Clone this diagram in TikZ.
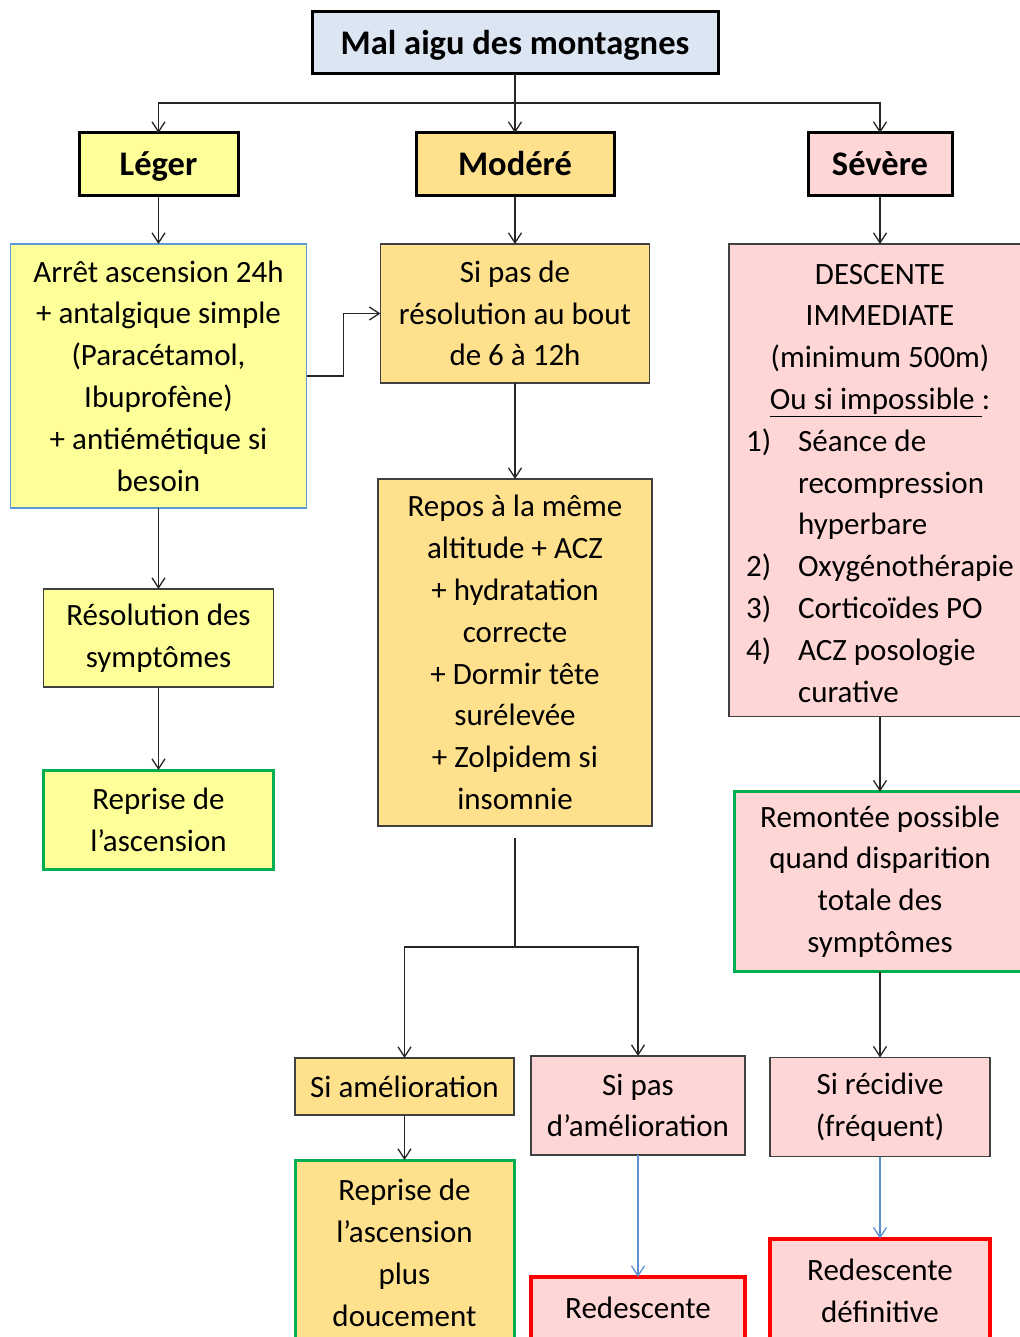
\documentclass[tikz,border=0pt]{standalone}
\usepackage{fontspec}
\setmainfont{Carlito}
\usetikzlibrary{positioning,arrows.meta,calc}

\definecolor{titlefill}{HTML}{DCE6F2}
\definecolor{legerfill}{HTML}{FFFF99}
\definecolor{moderefill}{HTML}{FFE08C}
\definecolor{severefill}{HTML}{FFD6D6}
\definecolor{boxline}{HTML}{404040}
\definecolor{linec}{HTML}{262626}
\definecolor{bluec}{HTML}{5B8FCF}
\definecolor{blueborder}{HTML}{5B9BD5}
\definecolor{greenc}{HTML}{00B050}
\definecolor{redc}{HTML}{FF0000}

\begin{document}
\begin{tikzpicture}[x=1pt,y=1pt,
    box/.style={draw=boxline, line width=1.3pt, outer sep=0pt, inner xsep=6pt, inner ysep=2pt,
      align=flush center, font=\fontsize{31}{41.8}\selectfont},
    head/.style={draw=black, line width=3pt, outer sep=0pt, inner xsep=6pt, inner ysep=2pt,
      text height=32pt, text depth=9pt, align=flush center, font=\fontsize{34.5}{40}\selectfont\bfseries},
    link/.style={draw=linec, line width=1.3pt},
    arr/.style={link, -{Straight Barb[length=10pt,width=13pt]}},
    bluearr/.style={arr, draw=bluec},
    okbox/.style={draw=greenc, line width=3pt},
    stopbox/.style={draw=redc, line width=4pt}]
  \useasboundingbox (0,0) rectangle (1019,-1337);

  % titre et niveaux
  \node[head, fill=titlefill, text width=394pt, minimum height=62pt] (title) at (515,-43) {Mal aigu des montagnes};
  \node[head, fill=moderefill, text width=186pt, minimum height=63pt, below=59pt of title] (modere) {Modéré};
  \node[head, fill=legerfill, text width=147pt, minimum height=63pt, left=178pt of modere] (leger) {Léger};
  \node[head, fill=severefill, text width=132pt, minimum height=63pt, right=194pt of modere] (severe) {Sévère};

  % colonne leger
  \node[box, draw=blueborder, fill=legerfill, text width=284pt, minimum height=264pt, below=48pt of leger] (arret)
    {Arrêt ascension 24h\\+ antalgique simple\\(Paracétamol,\\Ibuprofène)\\+ antiémétique si\\besoin};
  \node[box, fill=legerfill, text width=218pt, minimum height=98pt, below=81pt of arret] (resol)
    {Résolution des\\symptômes};
  \node[box, okbox, fill=legerfill, text width=218pt, minimum height=99pt, below=83pt of resol] (reprise)
    {Reprise de\\l’ascension};

  % colonne modere
  \node[box, fill=moderefill, text width=257pt, minimum height=139pt, below=48pt of modere] (sipas)
    {Si pas de\\résolution au bout\\de 6 à 12h};
  \node[box, fill=moderefill, text width=262pt, minimum height=347pt, below=96pt of sipas] (repos)
    {Repos à la même\\altitude + ACZ\\+ hydratation\\correcte\\+ Dormir tête\\surélevée\\+ Zolpidem si\\insomnie};
  \node[box, fill=moderefill, text width=207pt, minimum height=57pt, below=232pt of repos, xshift=-110.5pt] (amelio)
    {Si amélioration};
  \node[box, fill=severefill, text width=202pt, minimum height=99pt, below=230pt of repos, xshift=123pt] (pasamelio)
    {Si pas\\d’amélioration};
  \node[box, okbox, fill=moderefill, text width=207pt, minimum height=186pt, below=45pt of amelio] (doucement)
    {Reprise de\\l’ascension\\plus\\doucement};
  \node[box, stopbox, fill=severefill, text width=202pt, minimum height=62pt, below=122pt of pasamelio] (redesc)
    {Redescente};

  % colonne severe
  \node[box, fill=severefill, text width=280pt, inner xsep=11pt, minimum height=471pt, below=48pt of severe] (descente)
    {\rule{0pt}{38pt}DESCENTE\\IMMEDIATE\\(minimum 500m)\\\underline{Ou si impossible }:\par
     \noindent\raggedright
     \begin{tabular}[t]{@{}p{52pt}@{}l@{}}
       1) & Séance de\\ & recompression\\ & hyperbare\\
       2) & Oxygénothérapie\\
       3) & Corticoïdes PO\\
       4) & ACZ posologie\\ & curative
     \end{tabular}};
  \node[box, okbox, fill=severefill, text width=280pt, minimum height=180pt, below=75pt of descente] (remontee)
    {Remontée possible\\quand disparition\\totale des\\symptômes};
  \node[box, fill=severefill, text width=208pt, minimum height=99pt, below=86pt of remontee] (recidive)
    {Si récidive\\(fréquent)};
  \node[box, stopbox, fill=severefill, text width=208pt, minimum height=104pt, below=82pt of recidive] (definitive)
    {Redescente\\définitive};

  % connecteurs
  \coordinate[below=29pt of title] (split);
  \draw[link] (title) -- (split);
  \draw[arr] (split) -| (leger);
  \draw[arr] (split) -- (modere);
  \draw[arr] (split) -| (severe);
  \draw[arr] (leger) -- (arret);
  \draw[arr] (modere) -- (sipas);
  \draw[arr] (severe) -- (descente);
  \draw[arr] (arret.east) -- ++(37,0) |- (sipas.west);
  \draw[arr] (arret) -- (resol);
  \draw[arr] (resol) -- (reprise);
  \draw[arr] (sipas) -- (repos);
  \coordinate[below=12pt of repos] (gapstart);
  \coordinate[below=121pt of repos] (fork);
  \draw[link] (gapstart) -- (fork);
  \draw[arr] (fork) -| (amelio);
  \draw[arr] (fork) -| (pasamelio);
  \draw[arr] (amelio) -- (doucement);
  \draw[bluearr] (pasamelio) -- (redesc);
  \draw[arr] (descente) -- (remontee);
  \draw[arr] (remontee) -- (recidive);
  \draw[bluearr] (recidive) -- (definitive);
\end{tikzpicture}
\end{document}
